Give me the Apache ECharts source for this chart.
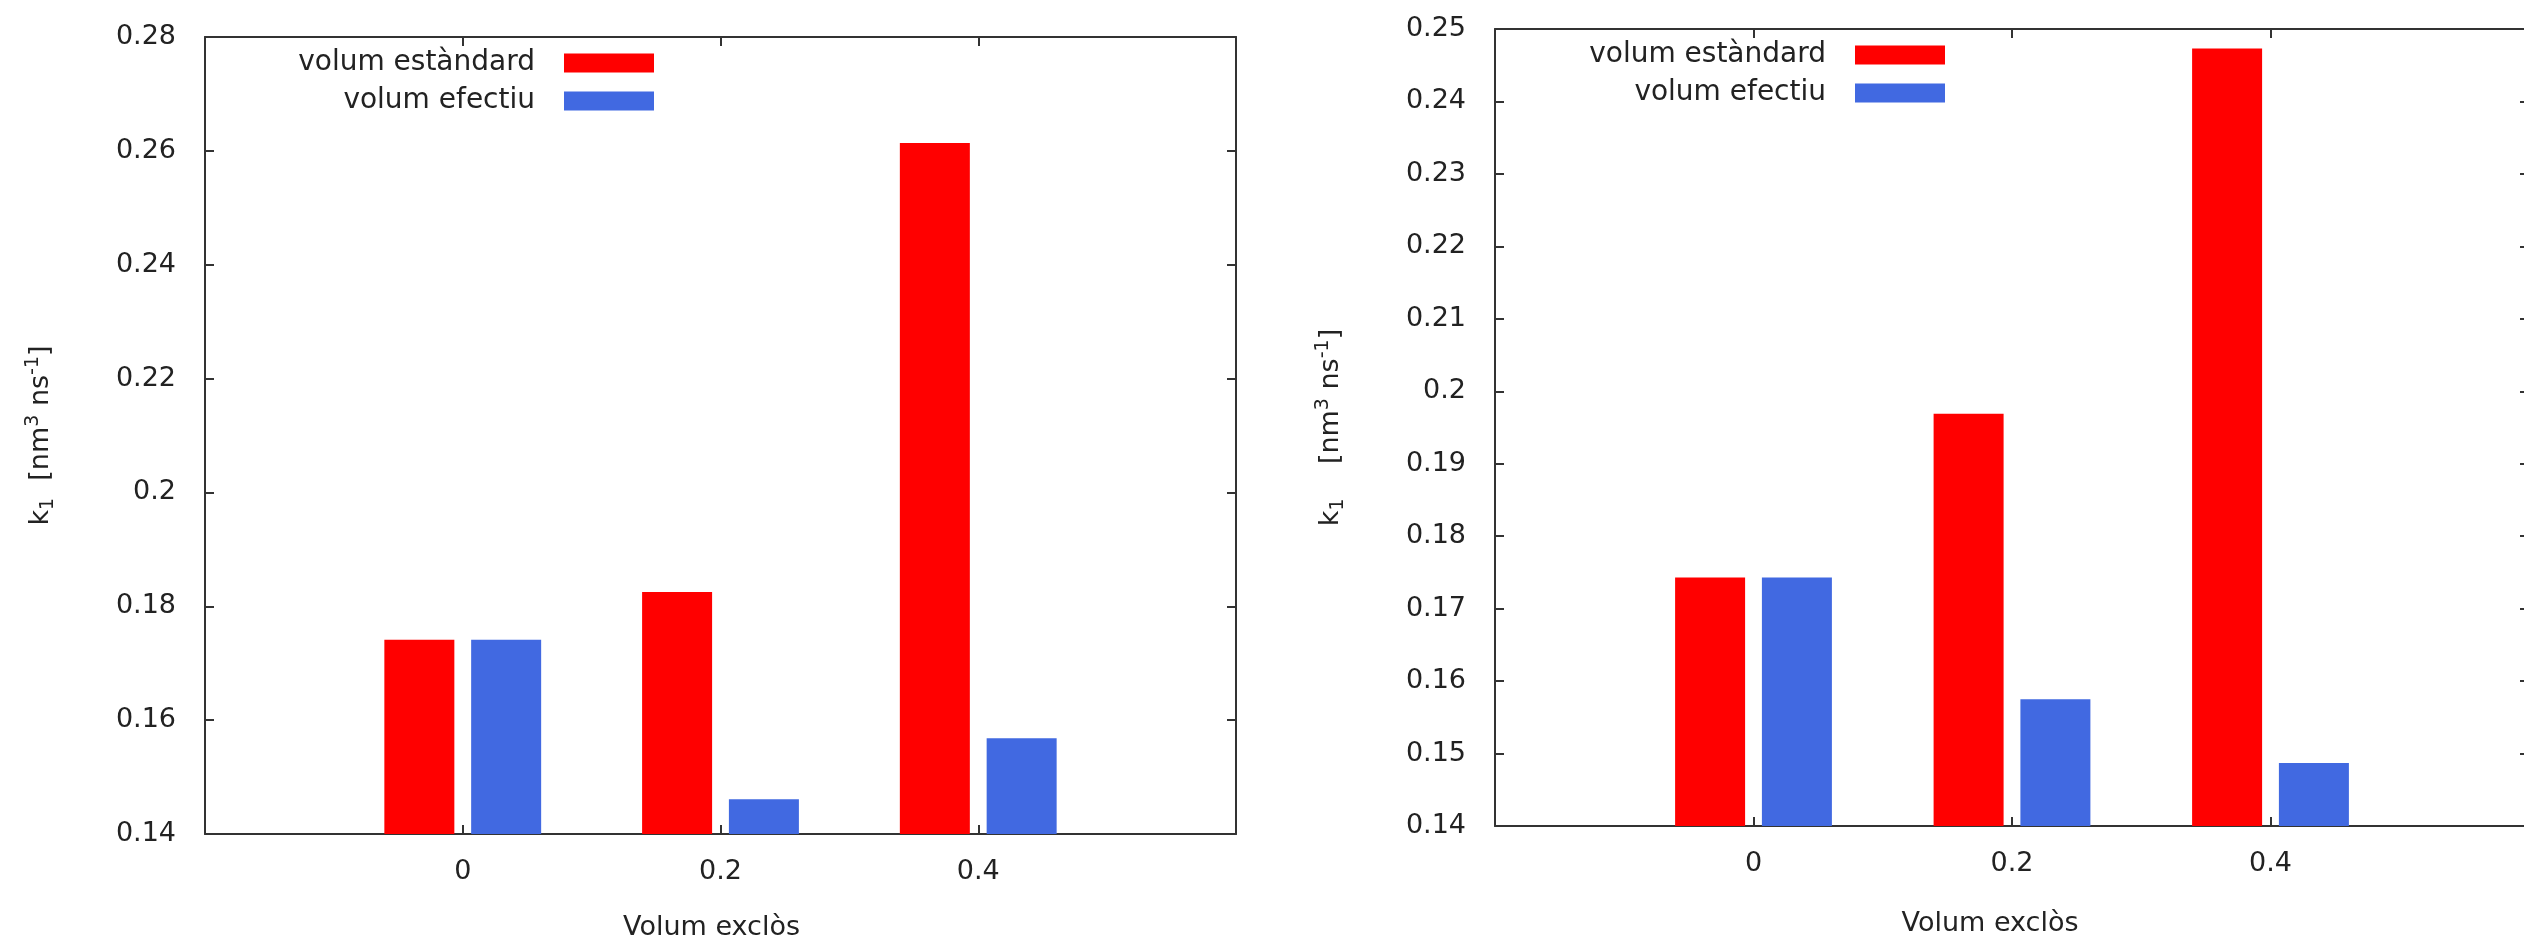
<!DOCTYPE html>
<html>
<head>
<meta charset="utf-8">
<script src="https://cdn.jsdelivr.net/npm/echarts@6/dist/echarts.min.js"></script>
<style>
  html, body { margin: 0; padding: 0; background: #fff; }
  #chart { width: 2524px; height: 936px; }
</style>
</head>
<body>
<div id="chart"></div>
<script>
// empty slots at both ends reproduce the gnuplot x range (-1 .. 3)
const categories = ['', '0', '0.2', '0.4', '']
const seriesNames = ['volum estàndard', 'volum efectiu']

// left panel
const leftStandard = [null, 0.1741, 0.1825, 0.2614, null]
const leftEffective = [null, 0.1741, 0.1461, 0.1568, null]
const leftYRange = [0.14, 0.28, 0.02] // min, max, interval

// right panel
const rightStandard = [null, 0.1743, 0.1969, 0.2473, null]
const rightEffective = [null, 0.1743, 0.1575, 0.1487, null]
const rightYRange = [0.14, 0.25, 0.01]

const xName = 'Volum exclòs'

const FONT = 'DejaVu Sans'
const FS = 27
const TXT = '#222'
const LINE = '#333'
const RED = '#ff0000'
const BLUE = '#4169e1'

const lineStyle = { color: LINE, width: 2 }
const tickStyle = { show: true, inside: true, length: 9, lineStyle: { color: LINE, width: 2 } }
const labelFont = { fontFamily: FONT, fontSize: FS, color: TXT }

const yNameRich = {
  a: { fontFamily: FONT, fontSize: FS, color: TXT, lineHeight: 34 },
  sub: { fontFamily: FONT, fontSize: 19, color: TXT, verticalAlign: 'bottom', lineHeight: 34 },
  sup: { fontFamily: FONT, fontSize: 19, color: TXT, verticalAlign: 'top', lineHeight: 34 }
}

function xAxes(gridIndex, namePad, nameGap) {
  return [
    {
      type: 'category', gridIndex: gridIndex, data: categories, boundaryGap: false,
      position: 'bottom',
      axisLine: { show: true, onZero: false, lineStyle: lineStyle },
      axisTick: tickStyle,
      axisLabel: Object.assign({ margin: 24, interval: 0 }, labelFont),
      splitLine: { show: false },
      name: xName, nameLocation: 'middle', nameGap: nameGap,
      nameTextStyle: Object.assign({ padding: [0, namePad, 0, 0] }, labelFont)
    },
    {
      type: 'category', gridIndex: gridIndex, data: categories, boundaryGap: false,
      position: 'top',
      axisLine: { show: true, onZero: false, lineStyle: lineStyle },
      axisTick: tickStyle,
      axisLabel: { show: false },
      splitLine: { show: false }
    }
  ]
}

function yAxes(gridIndex, range, gapText) {
  return [
    {
      type: 'value', gridIndex: gridIndex, position: 'left',
      min: range[0], max: range[1], interval: range[2],
      axisLine: { show: true, lineStyle: lineStyle },
      axisTick: tickStyle,
      axisLabel: Object.assign({ margin: 29 }, labelFont),
      splitLine: { show: false },
      name: '{a|k}{sub|1}{a|' + gapText + '[nm}{sup|3}{a| ns}{sup|-1}{a|]}',
      nameLocation: 'middle', nameRotate: 90, nameGap: 147,
      nameTextStyle: { rich: yNameRich }
    },
    {
      type: 'value', gridIndex: gridIndex, position: 'right',
      min: range[0], max: range[1], interval: range[2],
      axisLine: { show: true, lineStyle: lineStyle },
      axisTick: tickStyle,
      axisLabel: { show: false },
      splitLine: { show: false }
    }
  ]
}

function bars(xIdx, yIdx, standard, effective) {
  return [
    { name: seriesNames[0], type: 'bar', xAxisIndex: xIdx, yAxisIndex: yIdx, data: standard,
      color: RED, barWidth: 70, barGap: '24%', silent: true },
    { name: seriesNames[1], type: 'bar', xAxisIndex: xIdx, yAxisIndex: yIdx, data: effective,
      color: BLUE, barWidth: 70, barGap: '24%', silent: true }
  ]
}

function legendItem(name, right, top) {
  return {
    data: [name], right: right, top: top, orient: 'vertical', align: 'right',
    padding: 0, icon: 'rect', itemWidth: 90, itemHeight: 19, selectedMode: false,
    textStyle: { fontFamily: FONT, fontSize: 28, color: TXT, padding: [0, 24, 0, 0] }
  }
}

const chart = echarts.init(document.getElementById('chart'))
const option = {
  animation: false,
  backgroundColor: '#fff',
  grid: [
    { left: 205, right: 1288, top: 37, bottom: 102, outerBoundsMode: 'none', containLabel: false },
    { left: 1495, right: -5, top: 29, bottom: 110, outerBoundsMode: 'none', containLabel: false }
  ],
  legend: [
    legendItem(seriesNames[0], 1870, 49),
    legendItem(seriesNames[1], 1870, 87),
    legendItem(seriesNames[0], 579, 41),
    legendItem(seriesNames[1], 579, 79)
  ],
  xAxis: xAxes(0, 18, 80).concat(xAxes(1, 44, 84)),
  yAxis: yAxes(0, leftYRange, '  ').concat(yAxes(1, rightYRange, '    ')),
  series: bars(0, 0, leftStandard, leftEffective).concat(bars(2, 2, rightStandard, rightEffective))
}
chart.setOption(option)
</script>
</body>
</html>
